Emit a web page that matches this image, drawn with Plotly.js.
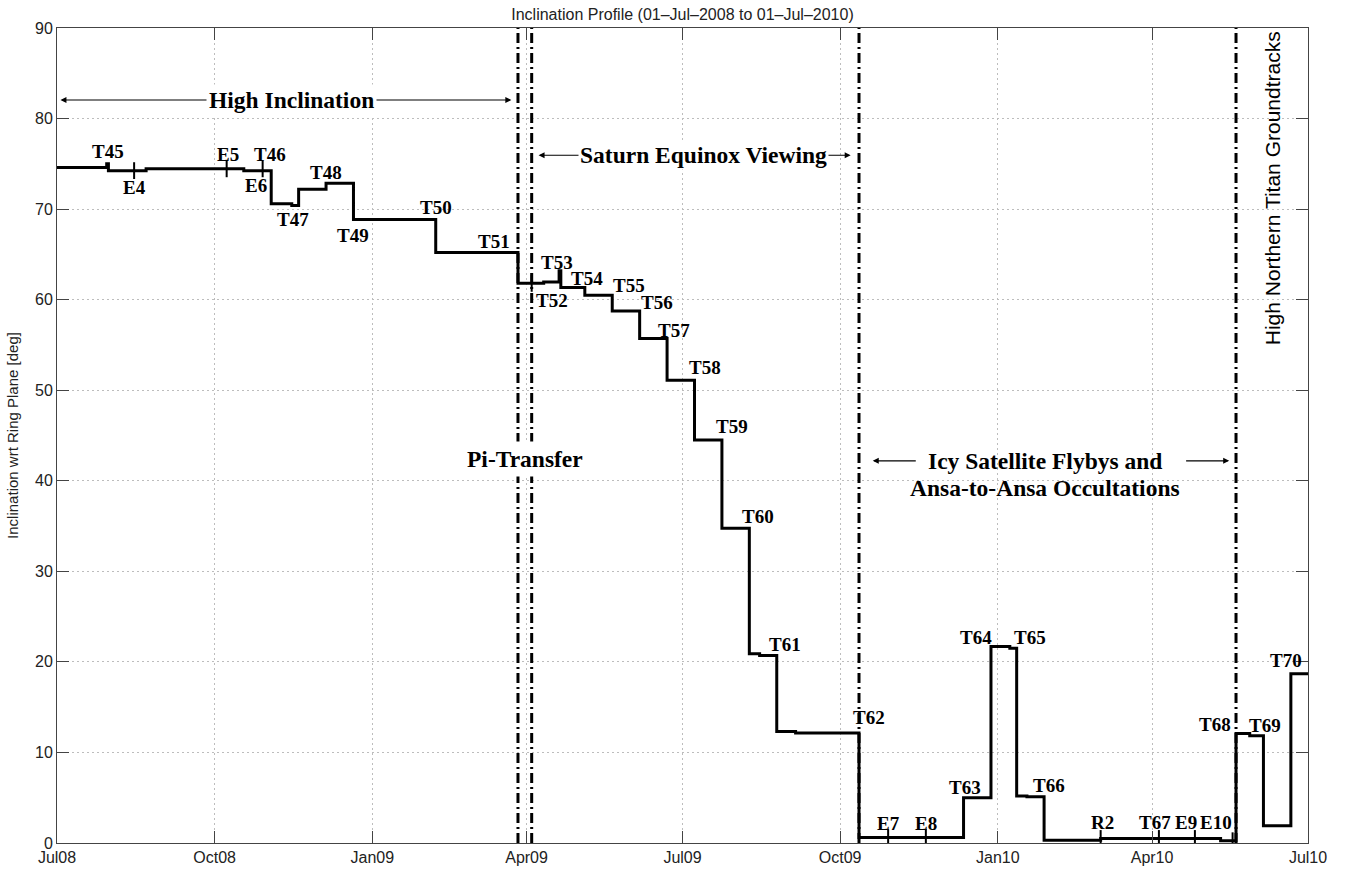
<!DOCTYPE html>
<html>
<head>
<meta charset="utf-8">
<script src="https://cdn.plot.ly/plotly-3.0.1.min.js"></script>
<style>html,body{margin:0;padding:0;background:#fff}</style>
</head>
<body>
<div id="chart" style="width:1346px;height:871px"></div>
<script>
// ---- Data ----
// Inclination profile: each value holds from its date until the next date (step profile)
const profileDates = ['2008-07-01','2008-07-30','2008-07-31','2008-08-22','2008-10-18','2008-11-03','2008-11-15','2008-11-19','2008-12-05','2008-12-21',
  '2009-02-07','2009-03-27','2009-04-11','2009-04-20','2009-04-21','2009-05-05','2009-05-21','2009-06-06','2009-06-22','2009-07-08',
  '2009-07-24','2009-08-09','2009-08-15','2009-08-25','2009-09-05','2009-10-12','2009-12-12','2009-12-28','2010-01-08','2010-01-12',
  '2010-01-18','2010-01-28','2010-03-02','2010-05-11','2010-05-20','2010-05-28','2010-06-05','2010-06-21','2010-07-01'];
const profileIncl = [74.6,75.0,74.25,74.45,74.25,70.6,70.4,72.2,72.85,68.85,
  65.2,61.8,61.95,63.2,61.35,60.5,58.75,55.7,51.1,44.5,
  34.75,20.9,20.7,12.3,12.15,0.6,5.0,21.7,21.5,5.2,
  5.1,0.3,0.5,0.25,12.1,11.85,1.9,18.7,18.7];

// Small flyby tick marks drawn across the profile
const tickFlybyNames = ['E4','E5','E6','T52','E7','E8','R2','T67','E9','E10'];
const tickFlybyDates = ['2008-08-15','2008-10-08','2008-10-29','2009-04-04','2009-10-29','2009-11-20','2010-03-02','2010-04-05','2010-04-26','2010-05-18'];
const tickFlybyIncl  = [74.25,74.45,74.45,61.8,0.6,0.6,0.5,0.5,0.5,0.25];

// Mission phase boundaries (dash-dot vertical lines)
const phaseBoundaryDates = ['2009-03-27','2009-04-04','2009-10-12','2010-05-20'];

// Axis ticks
const xTickVals = ['2008-07-01','2008-10-01','2009-01-01','2009-04-01','2009-07-01','2009-10-01','2010-01-01','2010-04-01','2010-07-01'];
const xTickText = ['Jul08','Oct08','Jan09','Apr09','Jul09','Oct09','Jan10','Apr10','Jul10'];
const yTickVals = [0,10,20,30,40,50,60,70,80,90];

// ---- Label placement (layout only) ----
const flybyLabelNames = ['T45','E4','E5','T46','E6','T47','T48','T49','T50','T51','T53','T54','T52','T55','T56','T57','T58','T59','T60','T61',
  'T62','E7','E8','T63','T64','T65','T66','R2','T67','E9','E10','T68','T69','T70'];
const flybyLabelX = ['2008-07-31','2008-08-15 12:00','2008-10-09','2008-11-02','2008-10-25','2008-11-16','2008-12-05','2008-12-21','2009-02-07','2009-03-13',
  '2009-04-19','2009-05-06','2009-04-16','2009-05-31','2009-06-16','2009-06-26','2009-07-14','2009-07-30','2009-08-14','2009-08-30',
  '2009-10-18','2009-10-29','2009-11-20','2009-12-13','2009-12-19','2010-01-20','2010-01-31','2010-03-03','2010-04-03','2010-04-21','2010-05-08 06:00','2010-05-08','2010-06-06','2010-06-18'];
const flybyLabelY = [76.34,72.38,76.08,76.08,72.58,68.85,74.04,67.14,70.17,66.47,
  64.1,62.3,59.96,61.53,59.68,56.65,52.56,45.97,36.03,21.95,
  13.91,2.10,2.10,6.18,22.73,22.73,6.35,2.26,2.26,2.26,2.26,13.14,12.97,20.12];

const serifBold = {family:'Liberation Serif, Times New Roman, serif', color:'#000', weight:'bold'};
const sans = 'Liberation Sans, Arial, Helvetica, sans-serif';

const traces = [
  {
    type:'scatter', mode:'lines', x:profileDates, y:profileIncl,
    line:{shape:'hv', color:'#000', width:3}, hoverinfo:'skip', name:'Inclination'
  },
  {
    type:'scatter', mode:'markers', x:tickFlybyDates, y:tickFlybyIncl, text:tickFlybyNames,
    marker:{symbol:'line-ns', size:12, color:'#000', line:{color:'#000', width:2}},
    hoverinfo:'skip', name:'Flybys'
  }
];

const annotations = [];
flybyLabelNames.forEach((n,i)=>{
  annotations.push({x:flybyLabelX[i], y:flybyLabelY[i], xref:'x', yref:'y', text:n, showarrow:false,
    font:Object.assign({}, serifBold, {size:19}), xanchor:'center', yanchor:'middle'});
});

function arrow(xHead, xTail, y, both){
  return {x:xHead, y:y, ax:xTail, ay:y, xref:'x', yref:'y', axref:'x', ayref:'y', text:'',
    showarrow:true, arrowhead:2, startarrowhead:2, arrowsize:1, startarrowsize:1, arrowwidth:1.2, arrowcolor:'#000',
    arrowside: both ? 'end+start' : 'end', standoff:0, startstandoff:0};
}
// Phase arrows
annotations.push(arrow('2008-07-03','2009-03-24',82.05,true));
annotations.push(arrow('2009-04-08','2009-10-08',75.95,true));
annotations.push(arrow('2009-10-20','2009-11-15',42.2,false));
annotations.push(arrow('2010-05-16','2010-04-20',42.2,false));

const sectionFont = Object.assign({}, serifBold, {size:23.5});
annotations.push({x:'2008-11-15', y:82.05, xref:'x', yref:'y', text:'High Inclination', showarrow:false, font:sectionFont, bgcolor:'#fff', borderpad:2});
annotations.push({x:'2009-07-13', y:75.95, xref:'x', yref:'y', text:'Saturn Equinox Viewing', showarrow:false, font:sectionFont, bgcolor:'#fff', borderpad:1});
annotations.push({x:'2009-03-31', y:42.4, xref:'x', yref:'y', text:'Pi-Transfer', showarrow:false, font:sectionFont, bgcolor:'#fff', borderpad:4});
annotations.push({x:'2010-01-28 12:00', y:42.2, xref:'x', yref:'y', text:'Icy Satellite Flybys and', showarrow:false, font:sectionFont});
annotations.push({x:'2010-01-28 12:00', y:39.2, xref:'x', yref:'y', text:'Ansa-to-Ansa Occultations', showarrow:false, font:sectionFont});
annotations.push({x:'2010-06-10', y:72.3, xref:'x', yref:'y', text:'High Northern Titan Groundtracks', showarrow:false, textangle:-90,
  font:{family:sans, size:21, color:'#000'}});

const shapes = phaseBoundaryDates.map(d=>({type:'line', xref:'x', yref:'paper', x0:d, x1:d, y0:0, y1:1,
  line:{color:'#000', width:3, dash:'10px,4px,2px,4px'}, layer:'above'}));

const axisCommon = {
  ticks:'inside', ticklen:12, tickwidth:1, tickcolor:'#444',
  showline:true, linecolor:'#444', linewidth:1, mirror:'ticks',
  showgrid:true, gridcolor:'#bdbdbd', griddash:'2px,3px', gridwidth:1,
  zeroline:false, automargin:false, fixedrange:true,
  tickfont:{family:sans, size:16, color:'#222'}
};

const layout = {
  width:1346, height:871,
  margin:{l:57, r:38, t:28, b:28},
  paper_bgcolor:'#fff', plot_bgcolor:'#fff',
  showlegend:false,
  title:{text:'Inclination Profile (01\u2013Jul\u20132008 to 01\u2013Jul\u20132010)',
    font:{family:sans, size:16, color:'#222'}, x:0.5, xref:'paper', xanchor:'center', y:1-14/871, yref:'container', yanchor:'middle'},
  xaxis:Object.assign({}, axisCommon, {type:'date', range:['2008-07-01','2010-07-01'], tickmode:'array', tickvals:xTickVals, ticktext:xTickText}),
  yaxis:Object.assign({}, axisCommon, {range:[0,90], tickmode:'array', tickvals:yTickVals,
    title:{text:'Inclination wrt Ring Plane [deg]', font:{family:sans, size:15, color:'#222'}, standoff:12}}),
  annotations:annotations,
  shapes:shapes
};

Plotly.newPlot('chart', traces, layout, {displayModeBar:false, staticPlot:true});
</script>
</body>
</html>
